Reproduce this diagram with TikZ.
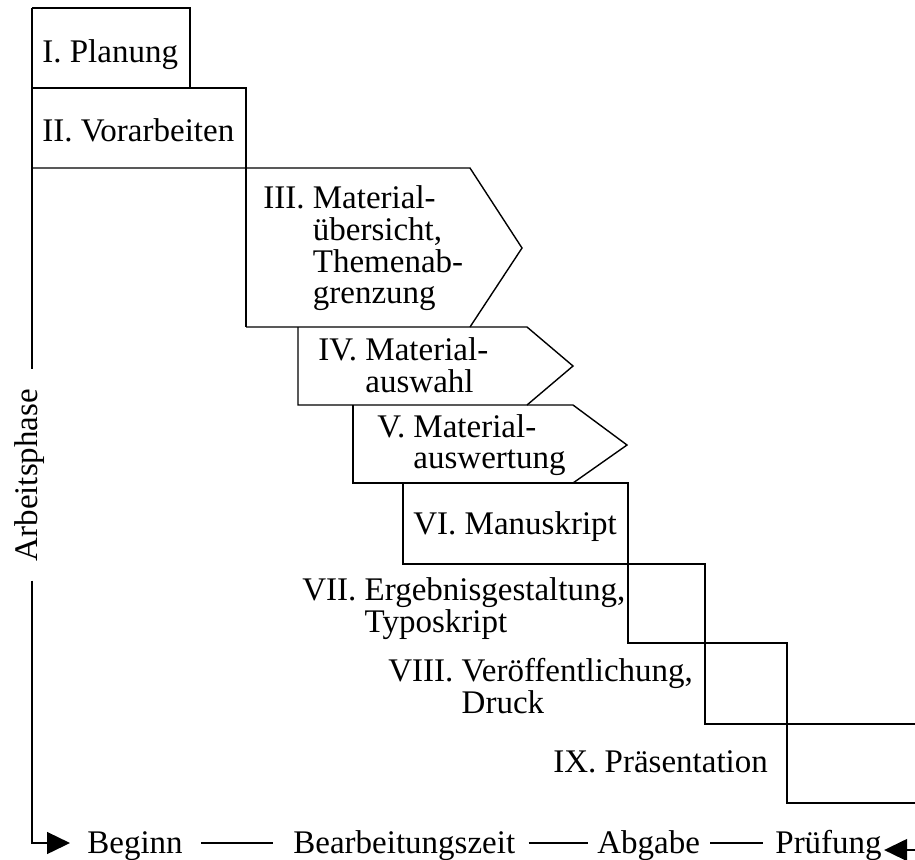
\documentclass[tikz,border=0pt]{standalone}
\usepackage{fontspec}
\setmainfont{Liberation Serif}
\usepackage{tikz}
\usetikzlibrary{calc,arrows.meta}

\newcommand{\phasefont}{\fontsize{16.5}{15.65}\selectfont}
\newcommand{\hanglabel}[2]{\begin{tabular}[t]{@{}l@{ }l@{}}#1 & #2\end{tabular}}

\tikzstyle{tsText} = [
    text=black,
    font=\phasefont,
    inner sep=0pt,
    anchor=base west
]
\tikzstyle{tsLine} = [
    draw=black,
    line width=0.7pt
]
\tikzstyle{tsArrow} = [
    tsLine,
    -{Triangle[length=11.5pt,width=11pt]}
]

\begin{document}
\begin{tikzpicture}[x=0.5pt, y=-0.5pt]

    \useasboundingbox (0,0) rectangle (915,859);

    % phase labels
    \node[tsText] (planung) at (42,62) {I. Planung};
    \node[tsText] (vorarb) at (42,141) {II. Vorarbeiten};
    \node[tsText] (uebers) at (263,208)
        {\hanglabel{III.}{Material-\\ & übersicht,\\ & Themenab-\\ & grenzung}};
    \node[tsText] (auswahl) at (318,360)
        {\hanglabel{IV.}{Material-\\ & auswahl}};
    \node[tsText] (auswert) at (377,437)
        {\hanglabel{V.}{Material-\\ & auswertung}};
    \node[tsText] (manus) at (413,534) {VI. Manuskript};
    \node[tsText] (ergeb) at (302,600)
        {\hanglabel{VII.}{Ergebnisgestaltung,\\ & Typoskript}};
    \node[tsText] (veroeff) at (388,681)
        {\hanglabel{VIII.}{Veröffentlichung,\\ & Druck}};
    \node[tsText] (praes) at (553,772) {IX. Präsentation};

    % staircase of phases
    \draw[tsLine] (32,8) -- (190,8) -- (190,88);
    \draw[tsLine] (32,88) -- (246,88) -- (246,327);
    \draw[tsLine] (32,168) -- (470,168) -- (522,248) -- (470,327);
    \draw[tsLine] (246,327) -- (527,327) -- (573,366) -- (527,405);
    \draw[tsLine] (298,327) -- (298,405) -- (573,405) -- (627,445) -- (573,483);
    \draw[tsLine] (353,405) -- (353,483) -- (628,483) -- (628,643)
        -- (787,643) -- (787,803) -- (915,803);
    \draw[tsLine] (403,483) -- (403,564) -- (705,564) -- (705,724) -- (915,724);

    % time axis
    \coordinate (origin) at (32,843);
    \node[tsText, anchor=base, rotate=90] (arbeit) at (37,475) {Arbeitsphase};
    \node[tsText] (beginn) at (87,853) {Beginn};
    \node[tsText] (bearb) at (293,853) {Bearbeitungszeit};
    \node[tsText] (abgabe) at (597,853) {Abgabe};
    \node[tsText] (pruef) at (775,853) {Prüfung};

    \draw[tsLine] (32,8) -- ($(arbeit.east -| origin)+(0,-19)$);
    \draw[tsArrow] ($(arbeit.west -| origin)+(0,19)$) -- (origin)
        -- ($(beginn.base west)+(-17,-10)$);
    \draw[tsLine] ($(beginn.base east)+(18,-10)$) -- ($(bearb.base west)+(-20,-10)$);
    \draw[tsLine] ($(bearb.base east)+(13,-10)$) -- ($(abgabe.base west)+(-9,-10)$);
    \draw[tsLine] ($(abgabe.base east)+(10,-10)$) -- ($(pruef.base west)+(-12,-10)$);
    \draw[tsArrow] (915,850) -- ($(pruef.base east)+(2,-3)$);

\end{tikzpicture}
\end{document}
